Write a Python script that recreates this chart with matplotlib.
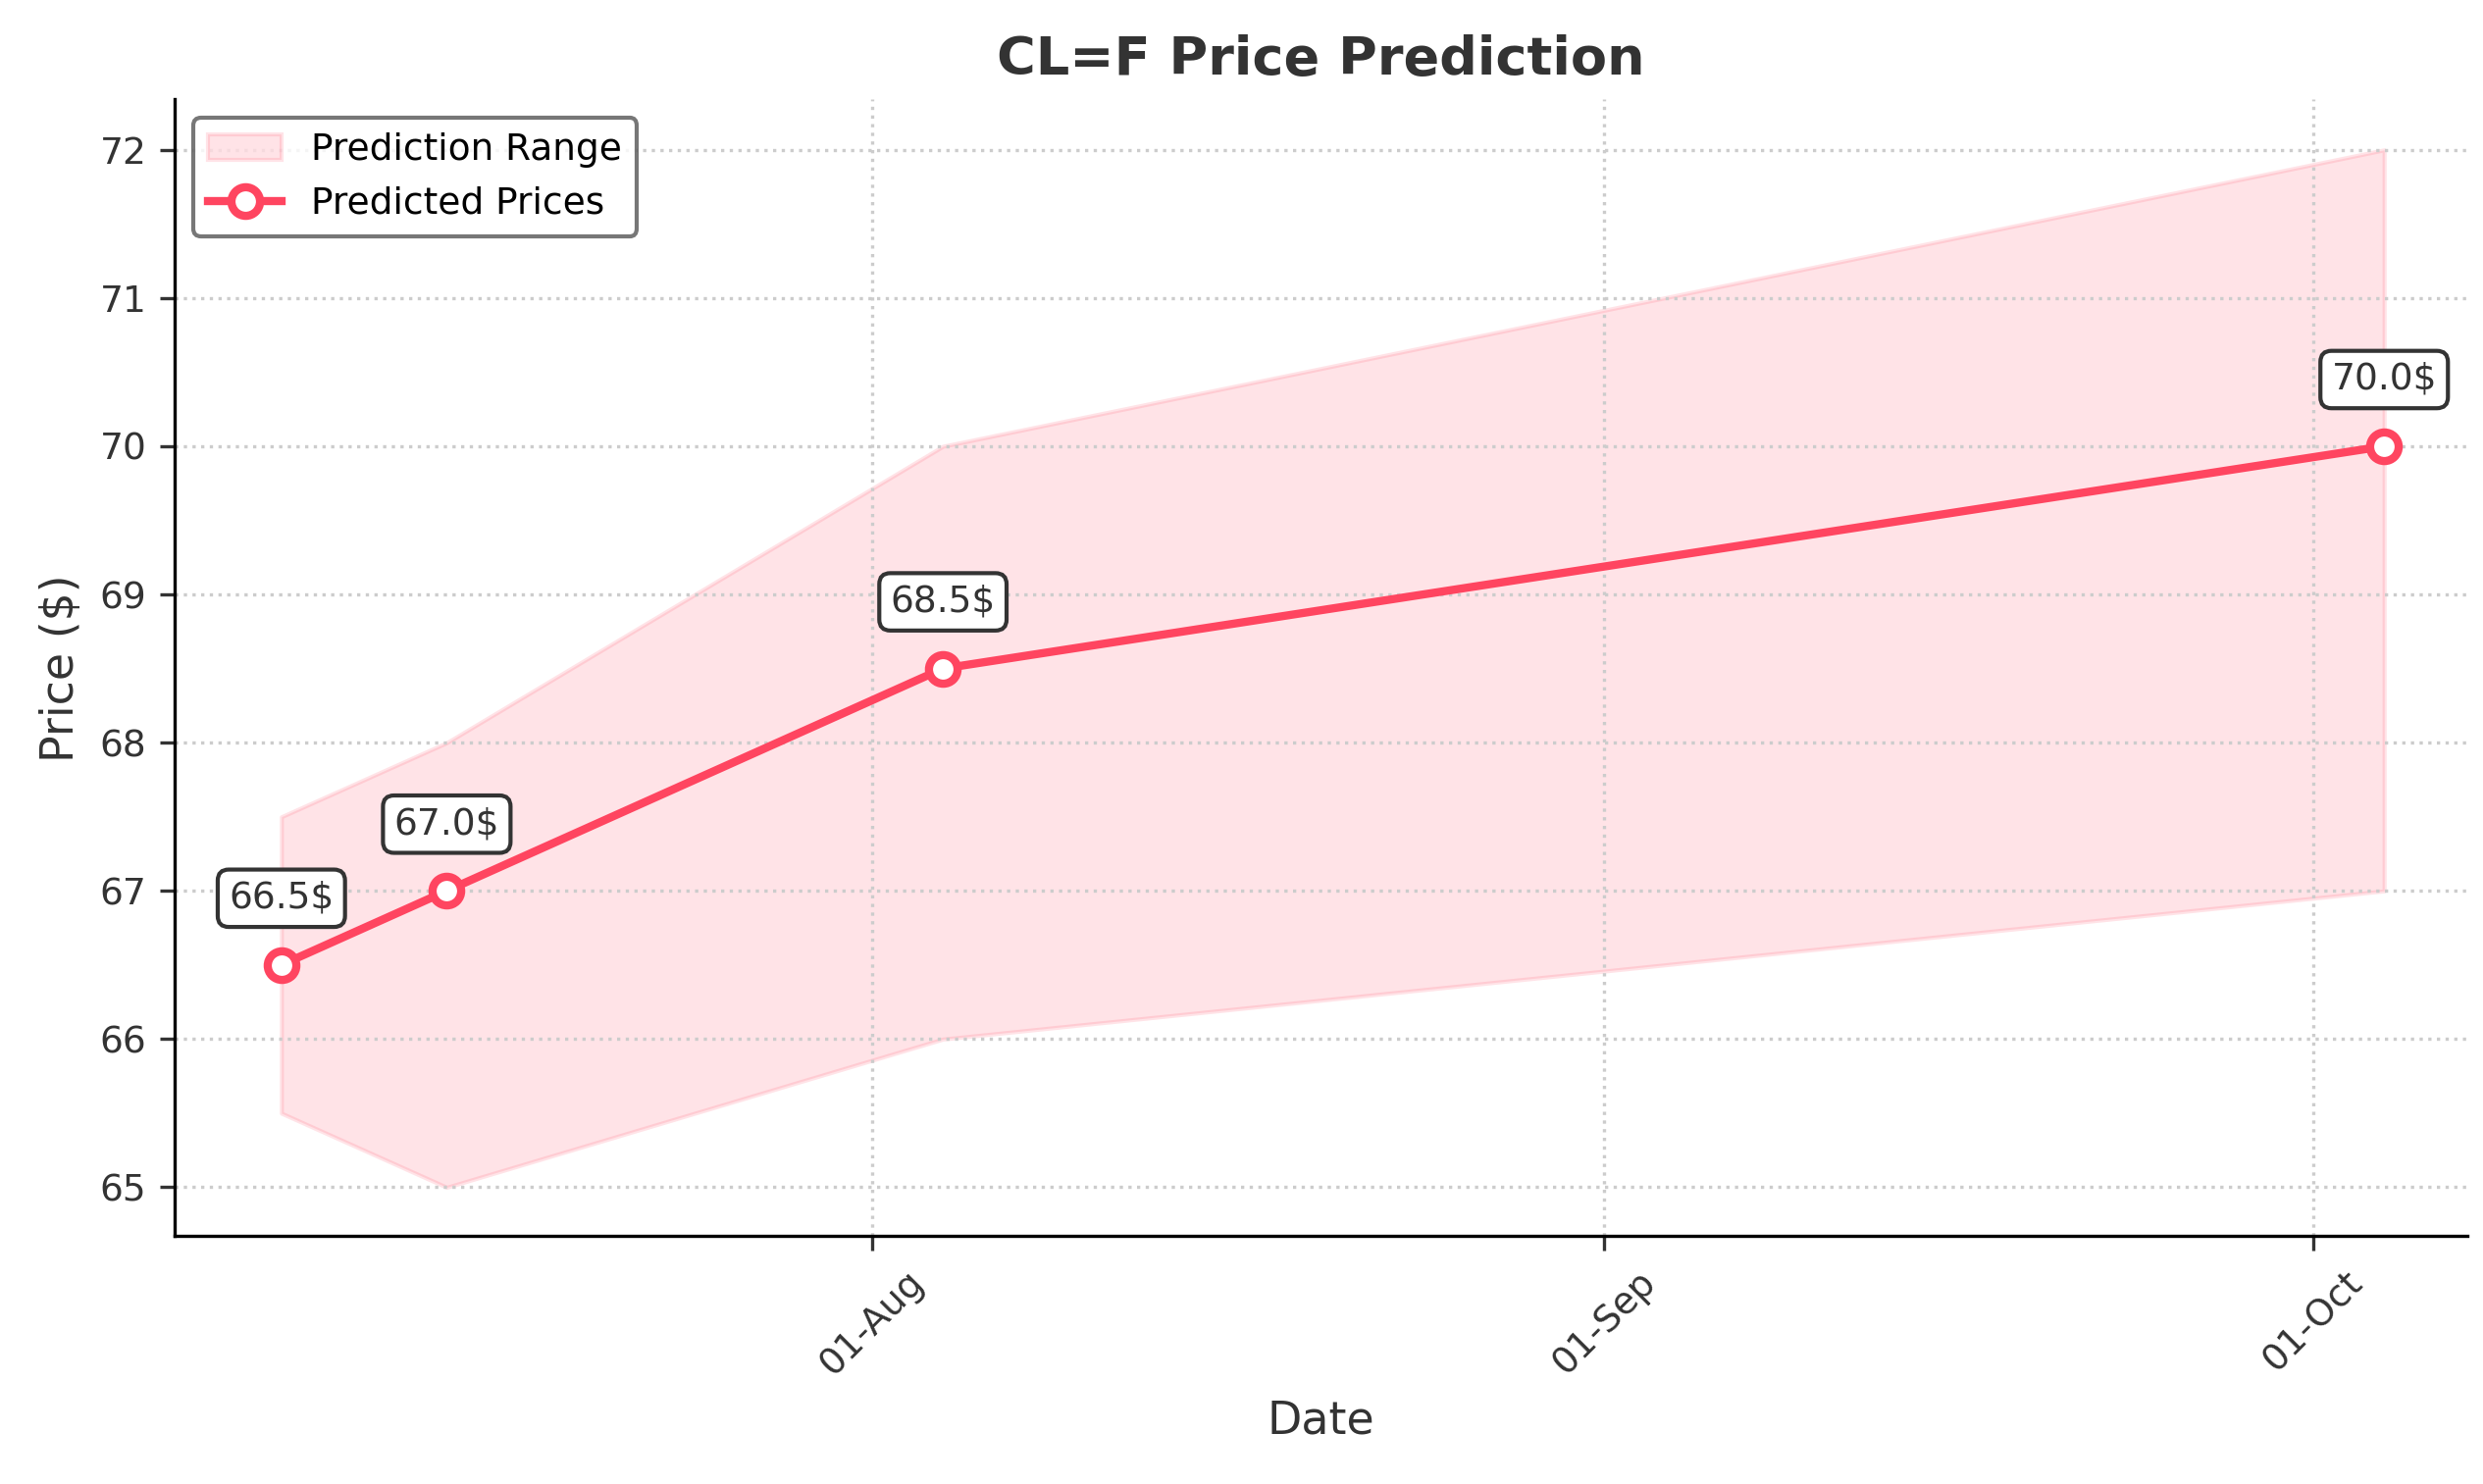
import matplotlib
matplotlib.use("Agg")
import matplotlib.pyplot as plt
import matplotlib.dates as mdates
import pandas as pd

dates = ["2024-07-07", "2024-07-14", "2024-08-04", "2024-10-04"]
predicted = [66.5, 67.0, 68.5, 70.0]
lower = [65.5, 65.0, 66.0, 67.0]
upper = [67.5, 68.0, 70.0, 72.0]
title = "CL=F Price Prediction"

d = pd.to_datetime(dates)
fig = plt.figure(figsize=(2531/300, 1513/300), dpi=300)
ax = fig.add_axes([0.0705, 0.167, 0.923, 0.766])
color = "#ff4560"
ax.fill_between(d, lower, upper, color=color, alpha=0.15, label="Prediction Range")
ax.plot(d, predicted, color=color, lw=2, marker="o", markersize=7,
        markerfacecolor="white", markeredgewidth=2, label="Predicted Prices")
for x, y in zip(d, predicted):
    ax.annotate(f"{y}$", (x, y), xytext=(0, 12), textcoords="offset points",
                ha="center", va="bottom", fontsize=9, color="#333333",
                bbox=dict(boxstyle="round,pad=0.3", fc="white", ec="#333333", lw=1))
ax.set_xlim(pd.Timestamp("2024-07-02 12:00"), pd.Timestamp("2024-10-07 12:00"))
ax.set_ylim(64.67, 72.34)
ax.xaxis.set_major_locator(mdates.MonthLocator())
ax.xaxis.set_major_formatter(mdates.DateFormatter("%d-%b"))
plt.setp(ax.get_xticklabels(), rotation=45)
ax.tick_params(labelsize=9, colors="#333333")
ax.grid(True, linestyle=":", color="#cccccc", lw=0.8)
for s in ["top", "right"]:
    ax.spines[s].set_visible(False)
ax.set_xlabel("Date", fontsize=11, color="#333333")
ax.set_ylabel("Price ($)", fontsize=11, color="#333333")
ax.set_title(title, fontsize=13, fontweight="bold", color="#333333")
leg = ax.legend(loc="upper left", fontsize=9, frameon=True, edgecolor="#555555")
fig.savefig("out.png", dpi=300)
